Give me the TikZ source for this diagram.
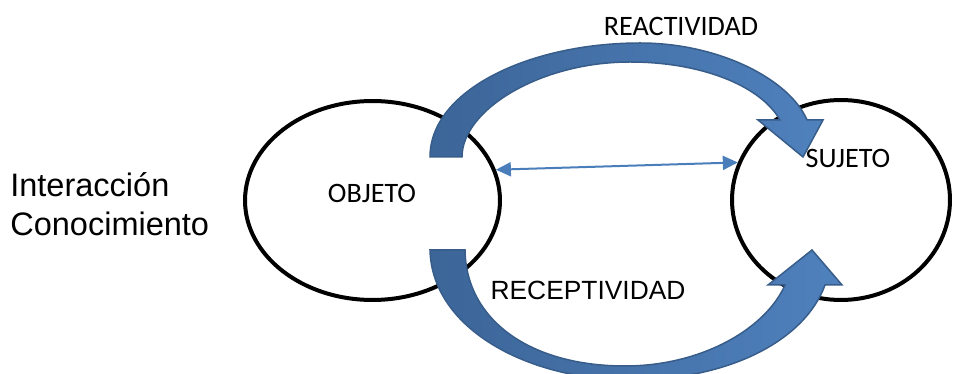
\documentclass[tikz,border=0pt]{standalone}
\usepackage{fontspec}
\setmainfont{Carlito}
\newfontfamily\arialfont{Liberation Sans}
\usetikzlibrary{arrows.meta,shapes.geometric}

\definecolor{arrowdark}{HTML}{3C6598}
\definecolor{arrowlight}{HTML}{4F81BD}
\definecolor{arrowline}{HTML}{385D8A}
\definecolor{linkblue}{HTML}{4A7EBB}

\begin{document}
\begin{tikzpicture}[x=0.02cm,y=-0.02cm,
        circ/.style={draw,ellipse,line width=0.08cm,inner sep=0pt},
        lbl/.style={font=\fontsize{16}{19}\selectfont,inner sep=0pt},
        bigarrow/.style={draw=arrowline,line width=0.03cm,left color=arrowdark,right color=arrowlight,line join=miter},
        link/.style={linkblue,line width=0.04cm,{Triangle[length=0.3cm,width=0.28cm]}-{Triangle[length=0.3cm,width=0.28cm]}}]
            \useasboundingbox (0,0) rectangle (956,374);
            \def\topArrow{(430,157) .. controls (430,90) and (530,43) .. (640,43)
                .. controls (720,43) and (790,80) .. (807,120)
                -- (823,120) -- (803,157) -- (758,120) -- (780,120)
                .. controls (760,85) and (700,62) .. (630,62)
                .. controls (540,62) and (462,110) .. (462,157) -- cycle}
            \def\bottomArrow{(430,250) .. controls (432,330) and (530,380) .. (630,380)
                .. controls (730,380) and (805,340) .. (825,285)
                -- (842,285) -- (812,250) -- (768,285) -- (785,285)
                .. controls (765,330) and (700,366) .. (625,366)
                .. controls (530,366) and (466,320) .. (465,250) -- cycle}

            % the two ellipses
            \node[circ,minimum width=5.1cm,minimum height=3.98cm] (obj) at (372.5,200.5) {};
            \node[circ,minimum width=4.36cm,minimum height=4cm] (suj) at (841,200) {};

            % curved block arrows
            \path[bigarrow] \topArrow;
            \path[bigarrow] \bottomArrow;

            % link between them
            \draw[link] (obj.14) -- (suj.160);

            % labels
            \node[lbl] (objlbl) at (372,193) {OBJETO};
            \node[lbl] (sujlbl) at (848,158) {SUJETO};
            \node[lbl] (reac) at (681,26) {REACTIVIDAD};
            \node[lbl,font=\arialfont\fontsize{15}{18}\selectfont] (recep) at (588,290) {RECEPTIVIDAD};
            \node[anchor=west,align=left,inner sep=0pt,font=\arialfont\fontsize{18.5}{22}\selectfont] (inter) at (10,204) {Interacción\\Conocimiento};
        \end{tikzpicture}
\end{document}
